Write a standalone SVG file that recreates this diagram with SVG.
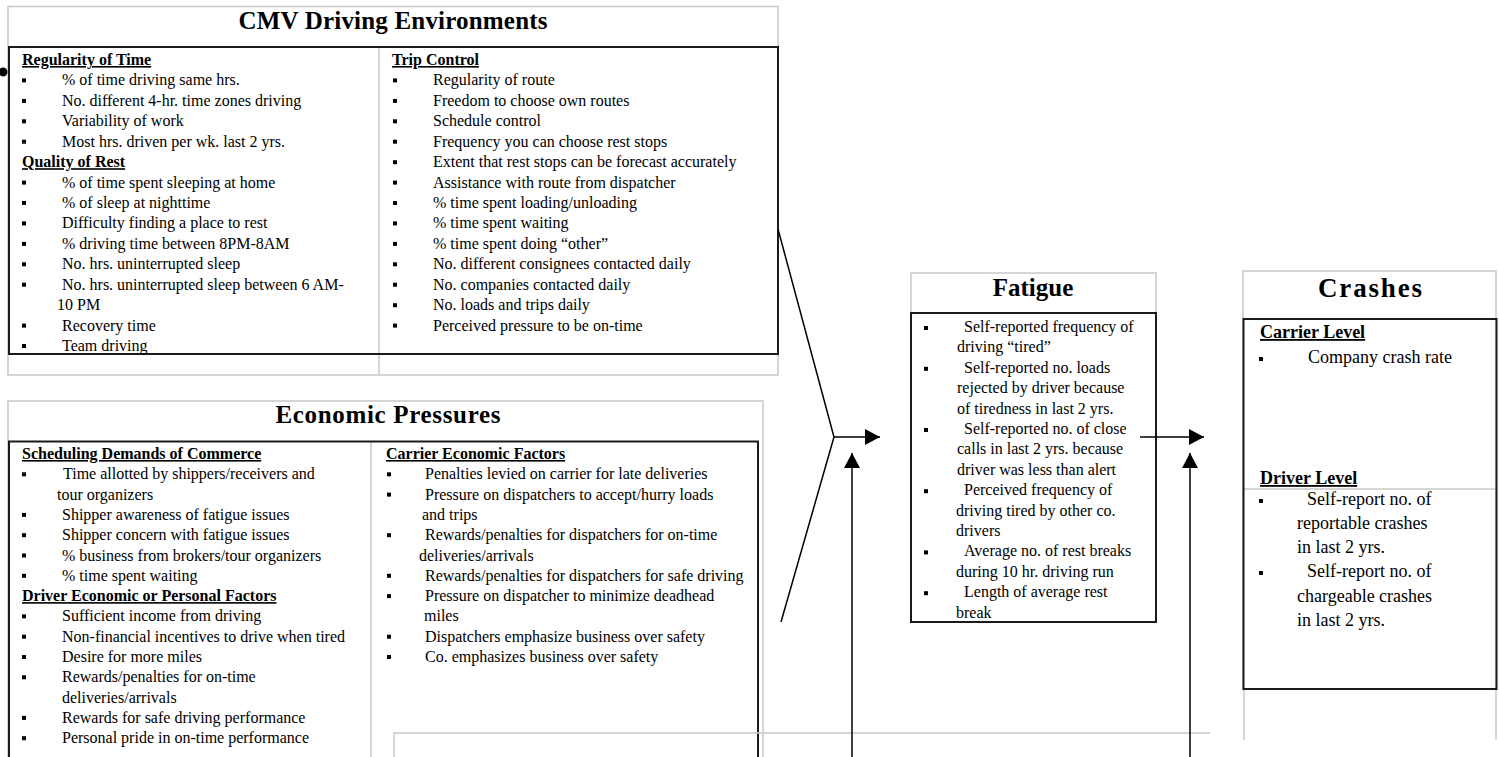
<svg xmlns="http://www.w3.org/2000/svg" width="1499" height="757" viewBox="0 0 1499 757">
<style>
text{font-family:"Liberation Serif","Times New Roman",serif;fill:#000;font-size:16px}
.h{font-weight:bold;text-decoration:underline}
.title{font-size:25px;font-weight:bold;text-anchor:middle}
.c{font-size:18px}
.g{stroke:#c8c8c8;stroke-width:1.5;fill:none}
.k{stroke:#1a1a1a;stroke-width:2;fill:none}
.b{fill:#000}
.cn{stroke:#000;stroke-width:1.5;fill:none}
</style>
<defs>
<marker id="ah" markerUnits="userSpaceOnUse" markerWidth="16" markerHeight="16" refX="15" refY="8" orient="auto"><path d="M0,0 L15,8 L0,16 z" fill="#000"/></marker>
</defs>
<rect width="1499" height="757" fill="#fff"/>

<g id="cmv">
<rect class="g" x="8" y="6.5" width="770" height="368.5"/>
<line class="g" x1="379" y1="47" x2="379" y2="375"/>
<rect class="k" x="9" y="47" width="769" height="307"/>
<circle cx="3" cy="72" r="4.5" fill="#000"/>
<text class="title" x="393" y="29" textLength="309" lengthAdjust="spacing">CMV Driving Environments</text>
<text class="h" x="22" y="65">Regularity of Time</text>
<rect class="b" x="22" y="78.4" width="4" height="4"/><text x="62" y="85.4">% of time driving same hrs.</text>
<rect class="b" x="22" y="98.9" width="4" height="4"/><text x="62" y="105.9">No. different 4-hr. time zones driving</text>
<rect class="b" x="22" y="119.3" width="4" height="4"/><text x="62" y="126.3">Variability of work</text>
<rect class="b" x="22" y="139.7" width="4" height="4"/><text x="62" y="146.7">Most hrs. driven per wk. last 2  yrs.</text>
<text class="h" x="22" y="167.2">Quality of Rest</text>
<rect class="b" x="22" y="180.6" width="4" height="4"/><text x="62" y="187.6">% of time spent sleeping at home</text>
<rect class="b" x="22" y="201" width="4" height="4"/><text x="62" y="208">% of sleep at nighttime</text>
<rect class="b" x="22" y="221.4" width="4" height="4"/><text x="62" y="228.4">Difficulty finding a place to rest</text>
<rect class="b" x="22" y="241.9" width="4" height="4"/><text x="62" y="248.9">% driving time between 8PM-8AM</text>
<rect class="b" x="22" y="262.3" width="4" height="4"/><text x="62" y="269.3">No. hrs. uninterrupted sleep</text>
<rect class="b" x="22" y="282.7" width="4" height="4"/><text x="62" y="289.7">No. hrs. uninterrupted sleep between 6 AM-</text>
<text x="57" y="310.2">10 PM</text>
<rect class="b" x="22" y="323.6" width="4" height="4"/><text x="62" y="330.6">Recovery time</text>
<rect class="b" x="22" y="344" width="4" height="4"/><text x="62" y="351">Team driving</text>

<text class="h" x="392" y="65">Trip Control</text>
<rect class="b" x="393" y="78.4" width="4" height="4"/><text x="433" y="85.4">Regularity of route</text>
<rect class="b" x="393" y="98.9" width="4" height="4"/><text x="433" y="105.9">Freedom to choose own routes</text>
<rect class="b" x="393" y="119.3" width="4" height="4"/><text x="433" y="126.3">Schedule control</text>
<rect class="b" x="393" y="139.7" width="4" height="4"/><text x="433" y="146.7">Frequency you can choose rest stops</text>
<rect class="b" x="393" y="160.2" width="4" height="4"/><text x="433" y="167.2">Extent that rest stops can be forecast accurately</text>
<rect class="b" x="393" y="180.6" width="4" height="4"/><text x="433" y="187.6">Assistance with route from dispatcher</text>
<rect class="b" x="393" y="201" width="4" height="4"/><text x="433" y="208">% time spent loading/unloading</text>
<rect class="b" x="393" y="221.4" width="4" height="4"/><text x="433" y="228.4">% time spent waiting</text>
<rect class="b" x="393" y="241.9" width="4" height="4"/><text x="433" y="248.9">% time spent doing “other”</text>
<rect class="b" x="393" y="262.3" width="4" height="4"/><text x="433" y="269.3">No. different consignees contacted daily</text>
<rect class="b" x="393" y="282.7" width="4" height="4"/><text x="433" y="289.7">No. companies contacted daily</text>
<rect class="b" x="393" y="303.2" width="4" height="4"/><text x="433" y="310.2">No. loads and trips daily</text>
<rect class="b" x="393" y="323.6" width="4" height="4"/><text x="433" y="330.6">Perceived pressure to be on-time</text>
</g>

<g id="economic">
<path class="g" d="M8,757 V401 H763 V757"/>
<line class="g" x1="371" y1="441" x2="371" y2="757"/>
<path class="k" d="M9,757 V441.5 H758 V757"/>
<text class="title" x="388" y="423" textLength="225" lengthAdjust="spacing">Economic Pressures</text>
<text class="h" x="22" y="459">Scheduling Demands of Commerce</text>
<rect class="b" x="22" y="472.3" width="4" height="4"/><text x="63" y="479.3">Time allotted by shippers/receivers and</text>
<text x="57" y="499.6">tour organizers</text>
<rect class="b" x="22" y="512.9" width="4" height="4"/><text x="62" y="519.9">Shipper awareness of fatigue issues</text>
<rect class="b" x="22" y="533.2" width="4" height="4"/><text x="62" y="540.2">Shipper concern with fatigue issues</text>
<rect class="b" x="22" y="553.5" width="4" height="4"/><text x="62" y="560.5">% business from brokers/tour organizers</text>
<rect class="b" x="22" y="573.8" width="4" height="4"/><text x="62" y="580.8">% time spent waiting</text>
<text class="h" x="22" y="601.1">Driver Economic or Personal Factors</text>
<rect class="b" x="22" y="614.4" width="4" height="4"/><text x="62" y="621.4">Sufficient income from driving</text>
<rect class="b" x="22" y="634.7" width="4" height="4"/><text x="62" y="641.7">Non-financial incentives to drive when tired</text>
<rect class="b" x="22" y="655" width="4" height="4"/><text x="62" y="662">Desire for more miles</text>
<rect class="b" x="22" y="675.3" width="4" height="4"/><text x="62" y="682.3">Rewards/penalties for on-time</text>
<text x="62" y="702.6">deliveries/arrivals</text>
<rect class="b" x="22" y="715.9" width="4" height="4"/><text x="62" y="722.9">Rewards for safe driving performance</text>
<rect class="b" x="22" y="736.2" width="4" height="4"/><text x="62" y="743.2">Personal pride in on-time performance</text>

<text class="h" x="386" y="459">Carrier Economic Factors</text>
<rect class="b" x="387" y="472.3" width="4" height="4"/><text x="425" y="479.3">Penalties levied on carrier for late deliveries</text>
<rect class="b" x="387" y="492.6" width="4" height="4"/><text x="425" y="499.6">Pressure on dispatchers to accept/hurry loads</text>
<text x="422" y="519.9">and trips</text>
<rect class="b" x="387" y="533.2" width="4" height="4"/><text x="425" y="540.2">Rewards/penalties for dispatchers for on-time</text>
<text x="419" y="560.5">deliveries/arrivals</text>
<rect class="b" x="387" y="573.8" width="4" height="4"/><text x="425" y="580.8">Rewards/penalties for dispatchers for safe driving</text>
<rect class="b" x="387" y="594.1" width="4" height="4"/><text x="425" y="601.1">Pressure on dispatcher to minimize deadhead</text>
<text x="424" y="621.4">miles</text>
<rect class="b" x="387" y="634.7" width="4" height="4"/><text x="425" y="641.7">Dispatchers emphasize business over safety</text>
<rect class="b" x="387" y="655" width="4" height="4"/><text x="425" y="662">Co. emphasizes business over safety</text>
</g>

<g id="fatigue">
<rect class="g" x="911" y="273" width="245" height="349"/>
<rect class="k" x="911" y="313" width="245" height="309"/>
<text class="title" x="1033" y="296">Fatigue</text>
<rect class="b" x="924" y="326" width="4" height="4"/><text x="964" y="332">Self-reported frequency of</text>
<text x="957" y="352.4">driving “tired”</text>
<rect class="b" x="924" y="366.8" width="4" height="4"/><text x="964" y="372.8">Self-reported no. loads</text>
<text x="957" y="393.2">rejected by driver because</text>
<text x="957" y="413.6">of tiredness in last 2 yrs.</text>
<rect class="b" x="924" y="428" width="4" height="4"/><text x="964" y="434">Self-reported no. of close</text>
<text x="957" y="454.4">calls in last 2 yrs. because</text>
<text x="957" y="474.8">driver was less than alert</text>
<rect class="b" x="924" y="489.2" width="4" height="4"/><text x="964" y="495.2">Perceived frequency of</text>
<text x="956" y="515.6">driving tired by other co.</text>
<text x="956" y="536">drivers</text>
<rect class="b" x="924" y="550.4" width="4" height="4"/><text x="964" y="556.4">Average no. of rest breaks</text>
<text x="956" y="576.8">during 10 hr. driving run</text>
<rect class="b" x="924" y="591.2" width="4" height="4"/><text x="964" y="597.2">Length of average rest</text>
<text x="956" y="617.6">break</text>
</g>

<g id="crashes">
<rect class="g" x="1243" y="271" width="253" height="418"/>
<line class="g" x1="1244" y1="689" x2="1244" y2="740"/>
<line class="g" x1="1496" y1="689" x2="1496" y2="740"/>
<line class="g" x1="1243" y1="489" x2="1496" y2="489"/>
<rect class="k" x="1243.5" y="319" width="253" height="370"/>
<text class="title" x="1370" y="297" style="font-size:27px" textLength="104" lengthAdjust="spacing">Crashes</text>
<text class="h c" x="1260" y="338">Carrier Level</text>
<rect class="b" x="1259" y="357" width="4" height="4"/><text class="c" x="1308" y="363">Company crash rate</text>
<text class="h c" x="1260" y="484">Driver Level</text>
<rect class="b" x="1259" y="499" width="4" height="4"/><text class="c" x="1307" y="505">Self-report no. of</text>
<text class="c" x="1297" y="529">reportable  crashes</text>
<text class="c" x="1297" y="553">in last 2 yrs.</text>
<rect class="b" x="1259" y="571" width="4" height="4"/><text class="c" x="1307" y="577">Self-report no. of</text>
<text class="c" x="1297" y="602">chargeable crashes</text>
<text class="c" x="1297" y="626">in last 2  yrs.</text>
</g>

<g id="connectors">
<path class="g" d="M394,757 V733 H1210"/>
<polyline class="cn" points="778,229 834,437 781,622"/>
<line class="cn" x1="834" y1="437" x2="880" y2="437" marker-end="url(#ah)"/>
<line class="cn" x1="852" y1="757" x2="852" y2="453" marker-end="url(#ah)"/>
<line class="cn" x1="1140" y1="437" x2="1204" y2="437" marker-end="url(#ah)"/>
<line class="cn" x1="1190" y1="757" x2="1190" y2="453" marker-end="url(#ah)"/>
</g>
</svg>
